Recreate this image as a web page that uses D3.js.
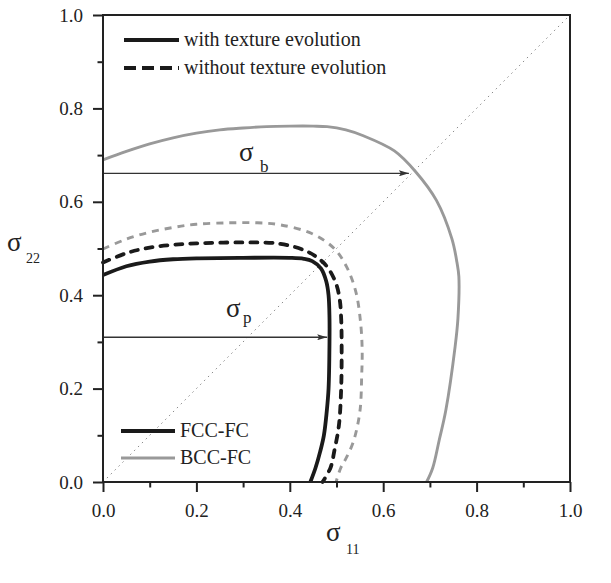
<!DOCTYPE html>
<html>
<head>
<meta charset="utf-8">
<script src="https://cdn.jsdelivr.net/npm/d3@7"></script>
<style>
  body { margin: 0; background: #fff; }
  svg { display: block; }
</style>
</head>
<body>
<div id="chart"></div>
<script>
// curve points [sigma11, sigma22]
var fccWith = [[0, 0.443], [0.05, 0.462], [0.1, 0.472], [0.15, 0.477], [0.2, 0.479], [0.3, 0.48], [0.4, 0.48],
  [0.43, 0.478], [0.448, 0.473], [0.467, 0.457], [0.478, 0.43], [0.483, 0.4], [0.485, 0.35], [0.485, 0.3],
  [0.483, 0.2], [0.479, 0.15], [0.473, 0.1], [0.465, 0.065], [0.455, 0.03], [0.444, 0]];
var fccWithout = [[0, 0.47], [0.05, 0.49], [0.1, 0.502], [0.15, 0.508], [0.2, 0.511], [0.3, 0.513], [0.38, 0.51],
  [0.434, 0.495], [0.465, 0.476], [0.482, 0.458], [0.499, 0.425], [0.507, 0.39], [0.51, 0.35], [0.511, 0.3],
  [0.51, 0.2], [0.505, 0.12], [0.496, 0.07], [0.487, 0.03], [0.47, 0]];
var bccWithout = [[0, 0.499], [0.05, 0.52], [0.1, 0.535], [0.15, 0.545], [0.2, 0.552], [0.27, 0.555], [0.33, 0.555],
  [0.378, 0.551], [0.447, 0.532], [0.495, 0.5], [0.522, 0.46], [0.542, 0.405], [0.552, 0.337], [0.555, 0.28],
  [0.554, 0.23], [0.55, 0.15], [0.536, 0.086], [0.52, 0.05], [0.509, 0.03], [0.499, 0]];
var bccWith = [[0, 0.69], [0.05, 0.708], [0.1, 0.724], [0.15, 0.737], [0.2, 0.747], [0.25, 0.754], [0.3, 0.758],
  [0.35, 0.761], [0.4, 0.762], [0.45, 0.762], [0.48, 0.761], [0.52, 0.754], [0.556, 0.742], [0.624, 0.709],
  [0.669, 0.665], [0.714, 0.603], [0.747, 0.521], [0.758, 0.47], [0.762, 0.44], [0.76, 0.35], [0.754, 0.29],
  [0.734, 0.153], [0.72, 0.09], [0.706, 0.03], [0.693, 0]];
var diagonal = [[0, 0], [1, 1]];
var arrowB = [[0, 0.661], [0.655, 0.661]];
var arrowP = [[0, 0.31], [0.48, 0.31]];
var majorTicks = [0, 0.2, 0.4, 0.6, 0.8, 1.0];
var minorTicks = [0.1, 0.3, 0.5, 0.7, 0.9];
var styleLegend = ["with texture evolution", "without texture evolution"];
var materialLegend = ["FCC-FC", "BCC-FC"];

var serif = "'Liberation Serif', 'Times New Roman', 'DejaVu Serif', serif";
var svgWidth = 611, svgHeight = 583;
var margin = {top: 15, right: 41, bottom: 101, left: 103};
var width = svgWidth - margin.left - margin.right;
var height = svgHeight - margin.top - margin.bottom;

var svg = d3.select("#chart").append("svg")
  .attr("width", svgWidth)
  .attr("height", svgHeight)
  .attr("font-family", serif);

var defs = svg.append("defs");
defs.append("marker")
  .attr("id", "head")
  .attr("viewBox", "0 0 10 6")
  .attr("refX", 10).attr("refY", 3)
  .attr("markerWidth", 10).attr("markerHeight", 6)
  .attr("markerUnits", "userSpaceOnUse")
  .attr("orient", "auto")
  .append("path")
  .attr("d", "M0,0 L10,3 L0,6 L2,3 Z")
  .attr("fill", "#333");

var g = svg.append("g").attr("transform", `translate(${margin.left}, ${margin.top})`);

var x = d3.scaleLinear().domain([0, 1]).range([0, width]);
var y = d3.scaleLinear().domain([0, 1]).range([height, 0]);

var line = d3.line().x(d => x(d[0])).y(d => y(d[1])).curve(d3.curveCatmullRom.alpha(0.5));
var straight = d3.line().x(d => x(d[0])).y(d => y(d[1]));

// diagonal
g.append("path").attr("d", straight(diagonal))
  .attr("fill", "none").attr("stroke", "#888").attr("stroke-width", 1)
  .attr("stroke-dasharray", "1.5,4");

// arrows
[arrowB, arrowP].forEach(function(a) {
  g.append("path").attr("d", straight(a))
    .attr("fill", "none").attr("stroke", "#333").attr("stroke-width", 1.3)
    .attr("marker-end", "url(#head)");
});

// curves
g.append("path").attr("d", line(bccWith))
  .attr("fill", "none").attr("stroke", "#999").attr("stroke-width", 2.9);
g.append("path").attr("d", line(bccWithout))
  .attr("fill", "none").attr("stroke", "#999").attr("stroke-width", 2.9)
  .attr("stroke-dasharray", "7,6");
g.append("path").attr("d", line(fccWithout))
  .attr("fill", "none").attr("stroke", "#1a1a1a").attr("stroke-width", 3.8)
  .attr("stroke-linecap", "round")
  .attr("stroke-dasharray", "7,8");
g.append("path").attr("d", line(fccWith))
  .attr("fill", "none").attr("stroke", "#1a1a1a").attr("stroke-width", 3.8);

// axes
var xAxis = g.append("g").attr("transform", `translate(0, ${height})`)
  .call(d3.axisBottom(x).tickValues(majorTicks).tickFormat(d3.format(".1f")).tickSize(10).tickPadding(12));
var xMinor = g.append("g").attr("transform", `translate(0, ${height})`)
  .call(d3.axisBottom(x).tickValues(minorTicks).tickFormat("").tickSize(5.5));
var yAxis = g.append("g")
  .call(d3.axisLeft(y).tickValues(majorTicks).tickFormat(d3.format(".1f")).tickSize(10).tickPadding(10));
var yMinor = g.append("g")
  .call(d3.axisLeft(y).tickValues(minorTicks).tickFormat("").tickSize(5.5));
[xAxis, xMinor, yAxis, yMinor].forEach(function(a) {
  a.attr("font-family", serif).attr("font-size", 19);
  a.selectAll(".domain").remove();
  a.selectAll(".tick line").attr("stroke", "#222").attr("stroke-width", 2);
  a.selectAll(".tick text").attr("fill", "#222");
});

// frame
g.append("rect").attr("width", width).attr("height", height)
  .attr("fill", "none").attr("stroke", "#222").attr("stroke-width", 2);

// sigma labels
function sigma(px, py, sub, subX, subY, size, subSize) {
  var t = svg.append("g").attr("fill", "#222").attr("font-family", serif);
  t.append("text").attr("x", px).attr("y", py).attr("font-size", size).text("σ");
  t.append("text").attr("x", subX).attr("y", subY).attr("font-size", subSize).text(sub);
}
sigma(7, 251, "22", 26, 263, 27, 14);
sigma(326, 541, "11", 346, 554, 27, 14);
sigma(239, 161, "b", 260, 172, 27, 17);
sigma(226, 317, "p", 243, 323, 27, 17);

// legend: line styles
var legTop = svg.append("g").attr("font-family", serif);
styleLegend.forEach(function(label, i) {
  var ly = 40 + i * 28;
  legTop.append("line").attr("x1", 124).attr("x2", 179).attr("y1", ly).attr("y2", ly)
    .attr("stroke", "#1a1a1a").attr("stroke-width", 3.8)
    .attr("stroke-dasharray", i === 0 ? null : "12,6");
  legTop.append("text").attr("x", 184).attr("y", ly + 6).attr("font-size", 20)
    .attr("fill", "#222").text(label);
});

// legend: materials
var legBot = svg.append("g").attr("font-family", serif);
materialLegend.forEach(function(label, i) {
  var ly = 431 + i * 27;
  legBot.append("line").attr("x1", 121).attr("x2", 175).attr("y1", ly).attr("y2", ly)
    .attr("stroke", i === 0 ? "#1a1a1a" : "#999").attr("stroke-width", i === 0 ? 3.8 : 2.9);
  legBot.append("text").attr("x", 180).attr("y", ly + 6).attr("font-size", 20)
    .attr("fill", "#222").text(label);
});
</script>
</body>
</html>
